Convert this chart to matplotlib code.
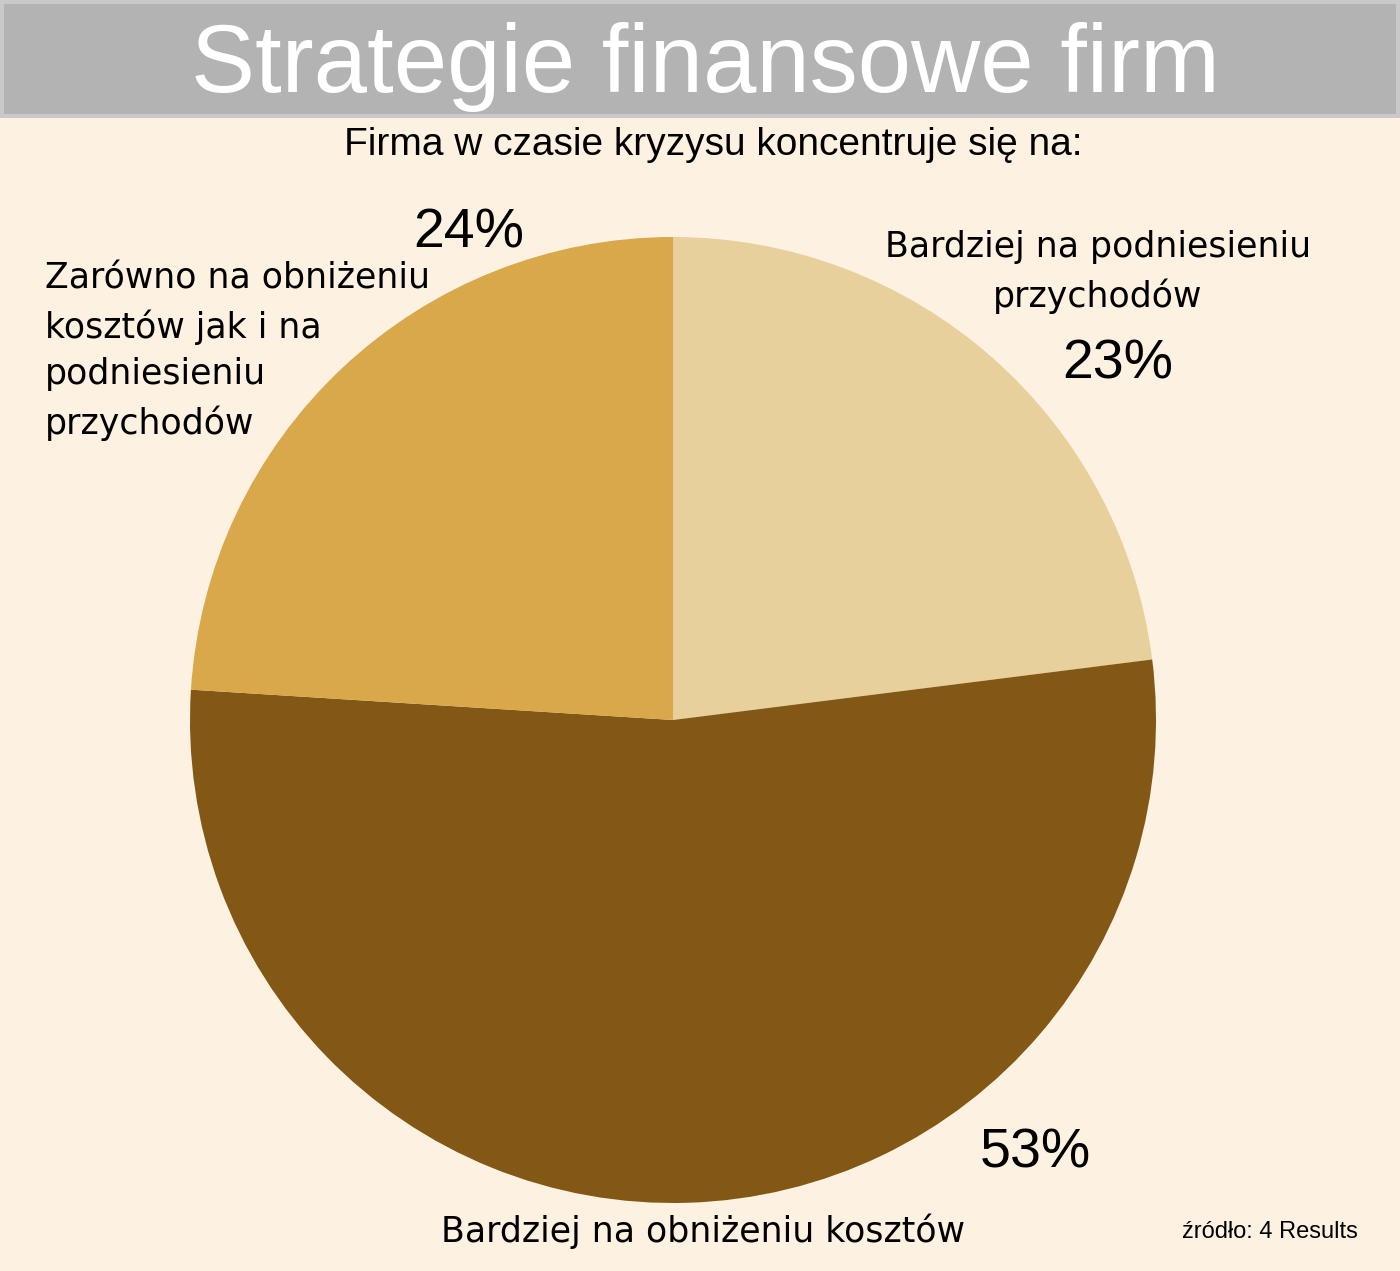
import matplotlib.pyplot as plt
from matplotlib.patches import Rectangle

W, H = 1400, 1271

title = 'Strategie finansowe firm'
subtitle = 'Firma w czasie kryzysu koncentruje się na:'
categories = ['Bardziej na podniesieniu\nprzychodów',
              'Bardziej na obniżeniu kosztów',
              'Zarówno na obniżeniu\nkosztów jak i na\npodniesieniu\nprzychodów']
values = [23, 53, 24]
colors = ['#E8D09D', '#835714', '#D8A84B']
source = 'źródło: 4 Results'

plt.rcParams['font.family'] = ['Liberation Sans', 'DejaVu Sans']

fig = plt.figure(figsize=(W / 100, H / 100), dpi=100)
fig.patch.set_facecolor('#FDF1E1')


def px(x, y):
    return x / W, 1 - y / H


# title banner
fig.patches.append(Rectangle(px(0, 118), 1, 118 / H, transform=fig.transFigure,
                             facecolor='#C9C9C9', edgecolor='none'))
fig.patches.append(Rectangle(px(4, 114), 1 - 8 / W, 110 / H, transform=fig.transFigure,
                             facecolor='#B3B3B3', edgecolor='none'))
fig.text(*px(705, 67), title, color='white', fontsize=69, ha='center', va='center')
fig.text(*px(713, 145), subtitle, color='black', fontsize=28, ha='center', va='center')

# pie
cx, cy, r = 673, 720, 483
x0, y0 = px(cx - r, cy + r)
ax = fig.add_axes([x0, y0, 2 * r / W, 2 * r / H])
ax.pie(values, colors=colors, startangle=90, counterclock=False, radius=1,
       wedgeprops=dict(linewidth=0))
ax.set_xlim(-1, 1)
ax.set_ylim(-1, 1)
ax.axis('off')

# labels
lab = dict(fontsize=25, family=['DejaVu Sans'])
fig.text(*px(1098, 272), categories[0], ha='center', va='center',
         linespacing=1.48, **lab)
fig.text(*px(1118, 365), f'{values[0]}%', fontsize=40, ha='center', va='center')
fig.text(*px(703, 1231), categories[1], ha='center', va='center', **lab)
fig.text(*px(1035, 1153), f'{values[1]}%', fontsize=40, ha='center', va='center')
fig.text(*px(45, 351), categories[2], ha='left', va='center',
         linespacing=1.48, **lab)
fig.text(*px(469, 234), f'{values[2]}%', fontsize=40, ha='center', va='center')
fig.text(*px(1358, 1232), source, fontsize=17, ha='right', va='center')

fig.savefig('out.png', dpi=100, facecolor=fig.get_facecolor())
